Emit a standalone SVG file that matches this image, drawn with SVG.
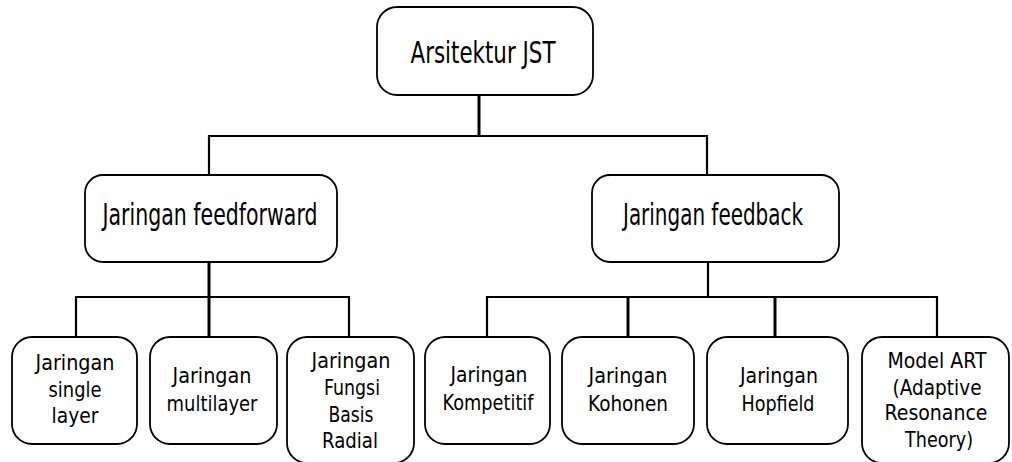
<svg xmlns="http://www.w3.org/2000/svg" width="1012" height="462" viewBox="0 0 1012 462">
  <style>
    .box { fill: #ffffff; stroke: #000000; stroke-width: 1.8; }
    .conn { stroke: #000000; stroke-width: 2.2; fill: none; }
    .thick { stroke-width: 3; }
    text { font-family: Tahoma, "DejaVu Sans", sans-serif; fill: #000000; text-anchor: middle; }
    .big { font-size: 30px; }
    .small { font-size: 21px; }
  </style>
  <rect width="1012" height="462" fill="#ffffff"/>
  <g id="connectors">
    <line class="conn thick" x1="479" y1="95" x2="479" y2="136"/>
    <polyline class="conn" points="209,175 209,136 707,136 707,175"/>
    <line class="conn thick" x1="209" y1="262" x2="209" y2="337"/>
    <polyline class="conn" points="76,337 76,297 349,297 349,337"/>
    <line class="conn" x1="708" y1="262" x2="708" y2="297"/>
    <polyline class="conn" points="487,337 487,297 937,297 937,337"/>
    <line class="conn thick" x1="628" y1="297" x2="628" y2="337"/>
    <line class="conn thick" x1="775" y1="297" x2="775" y2="337"/>
  </g>
  <g id="node-root">
    <rect class="box" x="377" y="7" width="216" height="88" rx="20" ry="20"/>
    <text class="big" x="483" y="63" textLength="145" lengthAdjust="spacingAndGlyphs">Arsitektur JST</text>
  </g>
  <g id="node-feedforward">
    <rect class="box" x="85" y="175" width="252" height="87" rx="18" ry="18"/>
    <text class="big" x="210" y="225" textLength="215" lengthAdjust="spacingAndGlyphs">Jaringan feedforward</text>
  </g>
  <g id="node-feedback">
    <rect class="box" x="592" y="175" width="247" height="87" rx="18" ry="18"/>
    <text class="big" x="713" y="225" textLength="180" lengthAdjust="spacingAndGlyphs">Jaringan feedback</text>
  </g>
  <g id="node-single">
    <rect class="box" x="12" y="337" width="125" height="107" rx="20" ry="20"/>
    <text class="small" x="75" y="370" textLength="79" lengthAdjust="spacingAndGlyphs">Jaringan</text>
    <text class="small" x="75" y="397" textLength="53" lengthAdjust="spacingAndGlyphs">single</text>
    <text class="small" x="75" y="423" textLength="47" lengthAdjust="spacingAndGlyphs">layer</text>
  </g>
  <g id="node-multilayer">
    <rect class="box" x="150" y="337" width="127" height="107" rx="20" ry="20"/>
    <text class="small" x="212" y="383" textLength="79" lengthAdjust="spacingAndGlyphs">Jaringan</text>
    <text class="small" x="212" y="411" textLength="91" lengthAdjust="spacingAndGlyphs">multilayer</text>
  </g>
  <g id="node-radial">
    <rect class="box" x="287" y="337" width="127" height="126" rx="20" ry="20"/>
    <text class="small" x="351" y="368" textLength="79" lengthAdjust="spacingAndGlyphs">Jaringan</text>
    <text class="small" x="352" y="395" textLength="56" lengthAdjust="spacingAndGlyphs">Fungsi</text>
    <text class="small" x="351" y="422" textLength="45" lengthAdjust="spacingAndGlyphs">Basis</text>
    <text class="small" x="350" y="448" textLength="56" lengthAdjust="spacingAndGlyphs">Radial</text>
  </g>
  <g id="node-kompetitif">
    <rect class="box" x="425" y="337" width="125" height="107" rx="20" ry="20"/>
    <text class="small" x="489" y="382" textLength="77" lengthAdjust="spacingAndGlyphs">Jaringan</text>
    <text class="small" x="488" y="410" textLength="91" lengthAdjust="spacingAndGlyphs">Kompetitif</text>
  </g>
  <g id="node-kohonen">
    <rect class="box" x="562" y="337" width="132" height="107" rx="20" ry="20"/>
    <text class="small" x="628" y="383" textLength="79" lengthAdjust="spacingAndGlyphs">Jaringan</text>
    <text class="small" x="628" y="411" textLength="80" lengthAdjust="spacingAndGlyphs">Kohonen</text>
  </g>
  <g id="node-hopfield">
    <rect class="box" x="707" y="337" width="141" height="107" rx="20" ry="20"/>
    <text class="small" x="779" y="383" textLength="78" lengthAdjust="spacingAndGlyphs">Jaringan</text>
    <text class="small" x="778" y="411" textLength="73" lengthAdjust="spacingAndGlyphs">Hopfield</text>
  </g>
  <g id="node-art">
    <rect class="box" x="862" y="337" width="147" height="126" rx="20" ry="20"/>
    <text class="small" x="937" y="368" textLength="99" lengthAdjust="spacingAndGlyphs">Model ART</text>
    <text class="small" x="937" y="395" textLength="89" lengthAdjust="spacingAndGlyphs">(Adaptive</text>
    <text class="small" x="936" y="420" textLength="103" lengthAdjust="spacingAndGlyphs">Resonance</text>
    <text class="small" x="939" y="447" textLength="68" lengthAdjust="spacingAndGlyphs">Theory)</text>
  </g>
</svg>
